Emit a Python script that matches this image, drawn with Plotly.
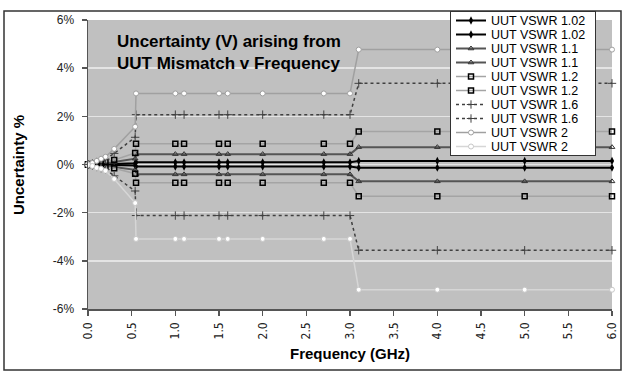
import plotly.graph_objects as go

# ---------------- data ----------------
freq_ghz = [0.0, 0.05, 0.1, 0.15, 0.2, 0.3, 0.54, 0.55, 1.0, 1.1, 1.5, 1.6, 2.0, 2.7, 3.0, 3.1, 4.0, 5.0, 6.0]

vswr_102_up = [0.0, 0.0, 0.01, 0.01, 0.01, 0.02, 0.05, 0.09, 0.09, 0.09, 0.09, 0.09, 0.09, 0.09, 0.09, 0.15, 0.15, 0.15, 0.15]
vswr_102_lo = [0.0, 0.0, -0.01, -0.01, -0.01, -0.02, -0.04, -0.08, -0.08, -0.08, -0.08, -0.08, -0.08, -0.08, -0.08, -0.13, -0.13, -0.13, -0.13]
vswr_11_up = [0.0, 0.01, 0.02, 0.04, 0.05, 0.1, 0.24, 0.43, 0.43, 0.43, 0.43, 0.43, 0.43, 0.43, 0.43, 0.72, 0.72, 0.72, 0.72]
vswr_11_lo = [0.0, -0.01, -0.02, -0.04, -0.05, -0.1, -0.22, -0.41, -0.41, -0.41, -0.41, -0.41, -0.41, -0.41, -0.41, -0.70, -0.70, -0.70, -0.70]
vswr_12_up = [0.01, 0.02, 0.05, 0.07, 0.1, 0.19, 0.48, 0.86, 0.86, 0.86, 0.86, 0.86, 0.86, 0.86, 0.86, 1.37, 1.37, 1.37, 1.37]
vswr_12_lo = [-0.01, -0.02, -0.05, -0.07, -0.1, -0.16, -0.38, -0.76, -0.76, -0.76, -0.76, -0.76, -0.76, -0.76, -0.76, -1.32, -1.32, -1.32, -1.32]
vswr_16_up = [0.01, 0.04, 0.1, 0.16, 0.22, 0.46, 1.13, 2.07, 2.07, 2.07, 2.07, 2.07, 2.07, 2.07, 2.07, 3.37, 3.37, 3.37, 3.37]
vswr_16_lo = [-0.01, -0.04, -0.1, -0.15, -0.21, -0.47, -1.1, -2.12, -2.12, -2.12, -2.12, -2.12, -2.12, -2.12, -2.12, -3.56, -3.56, -3.56, -3.56]
vswr_2_up = [0.02, 0.06, 0.15, 0.24, 0.32, 0.65, 1.57, 2.95, 2.95, 2.95, 2.95, 2.95, 2.95, 2.95, 2.95, 4.77, 4.77, 4.77, 4.77]
vswr_2_lo = [-0.02, -0.06, -0.14, -0.18, -0.26, -0.6, -1.6, -3.09, -3.09, -3.09, -3.09, -3.09, -3.09, -3.09, -3.09, -5.2, -5.2, -5.2, -5.2]

series_names = ["UUT VSWR 1.02", "UUT VSWR 1.02", "UUT VSWR 1.1", "UUT VSWR 1.1",
                "UUT VSWR 1.2", "UUT VSWR 1.2", "UUT VSWR 1.6", "UUT VSWR 1.6",
                "UUT VSWR 2", "UUT VSWR 2"]
series_values = [vswr_102_up, vswr_102_lo, vswr_11_up, vswr_11_lo, vswr_12_up, vswr_12_lo,
                 vswr_16_up, vswr_16_lo, vswr_2_up, vswr_2_lo]

y_tick_vals = [-6, -4, -2, 0, 2, 4, 6]
y_tick_text = ["-6%", "-4%", "-2%", "0%", "2%", "4%", "6%"]
x_tick_vals = [0.0, 0.5, 1.0, 1.5, 2.0, 2.5, 3.0, 3.5, 4.0, 4.5, 5.0, 5.5, 6.0]
x_tick_text = ["0.0", "0.5", "1.0", "1.5", "2.0", "2.5", "3.0", "3.5", "4.0", "4.5", "5.0", "5.5", "6.0"]

# ---------------- styles ----------------
styles = [
    dict(line=dict(color="#000000", width=2), marker=dict(symbol="diamond-tall", size=6, color="#000000")),
    dict(line=dict(color="#000000", width=2), marker=dict(symbol="diamond-tall", size=6, color="#000000")),
    dict(line=dict(color="#555555", width=2), marker=dict(symbol="triangle-up-open", size=5, color="#333333", line=dict(width=1))),
    dict(line=dict(color="#555555", width=2), marker=dict(symbol="triangle-up-open", size=5, color="#333333", line=dict(width=1))),
    dict(line=dict(color="#a4a4a4", width=1.5), marker=dict(symbol="square-open", size=5, color="#000000", line=dict(width=1.5))),
    dict(line=dict(color="#a4a4a4", width=1.5), marker=dict(symbol="square-open", size=5, color="#000000", line=dict(width=1.5))),
    dict(line=dict(color="#404040", width=1.5, dash="dot"), marker=dict(symbol="cross-thin", size=6, color="#404040", line=dict(width=1, color="#404040"))),
    dict(line=dict(color="#404040", width=1.5, dash="dot"), marker=dict(symbol="cross-thin", size=6, color="#404040", line=dict(width=1, color="#404040"))),
    dict(line=dict(color="#a0a0a0", width=1.5), marker=dict(symbol="circle", size=5, color="#ffffff", line=dict(width=1, color="#a0a0a0"))),
    dict(line=dict(color="#d6d6d6", width=1.5), marker=dict(symbol="circle", size=5, color="#ffffff", line=dict(width=1, color="#c8c8c8"))),
]

FONT = "Liberation Sans, Arial, Helvetica, sans-serif"
NARROW = "Liberation Sans Narrow, DejaVu Sans Condensed, Liberation Sans, sans-serif"

fig = go.Figure()
for name, vals, st in zip(series_names, series_values, styles):
    fig.add_trace(go.Scatter(x=freq_ghz, y=vals, name=name, mode="lines+markers",
                             line=st["line"], marker=st["marker"], cliponaxis=False))

# plot area: x 88..612, y 20..309
L, R, T, B = 88, 18, 20, 71
W, H = 630, 380
pw, ph = W - L - R, H - T - B

def px_x(p):
    return (p - L) / pw

def px_y(p):
    return (H - B - p) / ph

fig.update_layout(
    width=W, height=H,
    margin=dict(l=L, r=R, t=T, b=B, autoexpand=False),
    paper_bgcolor="#ffffff",
    plot_bgcolor="#c0c0c0",
    font=dict(family=FONT, size=12, color="#222222"),
    showlegend=True,
    legend=dict(x=px_x(450), y=px_y(11), xanchor="left", yanchor="top",
                bgcolor="#ffffff", bordercolor="#333333", borderwidth=1,
                font=dict(family=FONT, size=12.5, color="#000000"),
                tracegroupgap=0, maxheight=400),
    xaxis=dict(range=[0, 6], tickvals=x_tick_vals, ticktext=x_tick_text, tickangle=-90,
               showgrid=False, zeroline=False, showline=True, linecolor="#555555", linewidth=1.5,
               ticks="outside", ticklen=5, tickwidth=1.5, tickcolor="#555555",
               tickfont=dict(family=NARROW, size=12, color="#222222"), ticklabelstandoff=2),
    yaxis=dict(range=[-6, 6], tickvals=y_tick_vals, ticktext=y_tick_text,
               showgrid=True, gridcolor="#e4e4e4", gridwidth=1.5, zeroline=False,
               showline=True, linecolor="#555555", linewidth=1.5,
               ticks="outside", ticklen=5, tickwidth=1.5, tickcolor="#555555",
               tickfont=dict(family=FONT, size=12, color="#222222"), ticklabelstandoff=5),
)

# outer chart border
fig.add_shape(type="rect", xref="paper", yref="paper",
              x0=px_x(4), x1=px_x(621), y0=px_y(370), y1=px_y(11),
              line=dict(color="#333333", width=1.5), fillcolor="rgba(0,0,0,0)", layer="below")

# chart title inside plot
fig.add_annotation(xref="paper", yref="paper", x=px_x(115), y=px_y(53), xanchor="left", yanchor="middle",
                   text="<b>Uncertainty (V) arising from<br>UUT Mismatch v Frequency</b>",
                   align="left", showarrow=False, font=dict(family=FONT, size=17, color="#000000"))
# axis titles
fig.add_annotation(xref="paper", yref="paper", x=px_x(350), y=px_y(353), xanchor="center", yanchor="middle",
                   text="<b>Frequency (GHz)</b>", showarrow=False, font=dict(family=FONT, size=15, color="#000000"))
fig.add_annotation(xref="paper", yref="paper", x=px_x(18), y=px_y(165), xanchor="center", yanchor="middle",
                   text="<b>Uncertainty %</b>", textangle=-90, showarrow=False,
                   font=dict(family=FONT, size=15, color="#000000"))

post = """
document.body.style.margin = '0';
document.body.style.padding = '0';
document.documentElement.style.margin = '0';
var gd = document.getElementById('{plot_id}');
var lg = gd.querySelector('g.legend');
if (lg) {
  lg.setAttribute('transform', 'translate(450,11)');
  var sb = lg.querySelector('g.scrollbox');
  if (sb) { sb.setAttribute('transform', 'translate(0,0)'); }
  var grp = lg.querySelectorAll('g.groups');
  grp.forEach(function(g){ g.setAttribute('transform', 'translate(0,0)'); });
  var items = lg.querySelectorAll('g.traces');
  var step = 14.0, first = 9.5;
  items.forEach(function(el, i){
    var t = el.getAttribute('transform') || '';
    var m = /translate\\(\\s*([-\\d.e]+)/.exec(t);
    var x = m ? parseFloat(m[1]) : 0;
    el.setAttribute('transform', 'translate(' + x + ',' + (first + i*step) + ')');
  });
  var bg = lg.querySelector('rect.bg');
  if (bg) { bg.setAttribute('x', 0.5); bg.setAttribute('y', 0.5); bg.setAttribute('height', 144); bg.setAttribute('width', 145); }
}
"""

fig.write_html("out.html", post_script=post, config={"displayModeBar": False, "staticPlot": True})
